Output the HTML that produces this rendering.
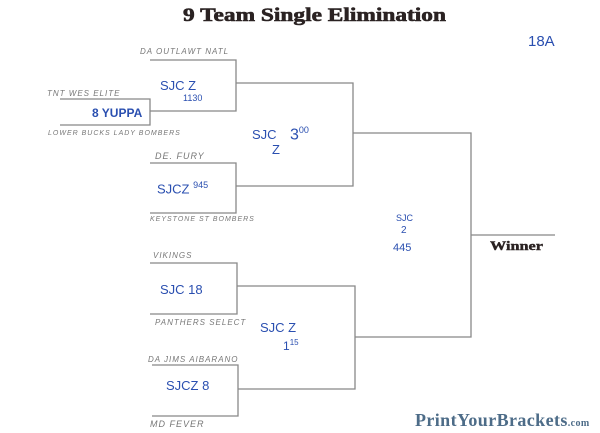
<!DOCTYPE html>
<html><head><style>
body{margin:0;width:600px;height:433px;background:#fff;position:relative;overflow:hidden;font-family:"Liberation Sans",sans-serif}
.t{position:absolute;white-space:nowrap}
.g{color:#777;font-size:8px;letter-spacing:1px;font-style:italic}
.b{color:#2a4fb0;font-size:13px}
</style></head><body>
<svg width="600" height="433" style="position:absolute;left:0;top:0" fill="none" stroke="#888" stroke-width="1.3">
<polyline points="150,60 236,60 236,111 150,111"/>
<polyline points="60,99 150,99 150,125 60,125"/>
<polyline points="150,163 236,163 236,213 150,213"/>
<polyline points="236,83 353,83 353,186 236,186"/>
<polyline points="150,263 237,263 237,314 150,314"/>
<polyline points="152,365 238,365 238,416 152,416"/>
<polyline points="237,286 355,286 355,389 238,389"/>
<polyline points="353,133 471,133 471,337 355,337"/>
<line x1="471" y1="235" x2="555" y2="235"/>
</svg>
<div class="t" style="left:183px;top:5px;font:900 19px 'Liberation Serif',serif;color:#2a2222;transform:scaleX(1.23);transform-origin:0 0;-webkit-text-stroke:0.6px #2a2222">9 Team Single Elimination</div>
<div class="t" style="left:490px;top:238px;font:bold 13px 'Liberation Serif',serif;color:#2a2222;transform:scaleX(1.25);transform-origin:0 0;-webkit-text-stroke:0.4px #2a2222">Winner</div>
<div class="t" style="left:415px;top:410px;font:bold 18px 'Liberation Serif',serif;color:#4d6c88;letter-spacing:0.4px">PrintYourBrackets<span style="font-size:10px">.com</span></div>
<div class="t b" style="left:528px;top:33px;font-size:15px">18A</div>
<div class="t g" style="left:140px;top:47px">DA OUTLAWT NATL</div>
<div class="t g" style="left:47px;top:89px">TNT WES ELITE</div>
<div class="t g" style="left:48px;top:130px;font-size:7px">LOWER BUCKS LADY BOMBERS</div>
<div class="t g" style="left:155px;top:151px;font-size:9px">DE. FURY</div>
<div class="t g" style="left:150px;top:216px;font-size:7px">KEYSTONE ST BOMBERS</div>
<div class="t g" style="left:153px;top:251px">VIKINGS</div>
<div class="t g" style="left:155px;top:318px">PANTHERS SELECT</div>
<div class="t g" style="left:148px;top:355px">DA JIMS AIBARANO</div>
<div class="t g" style="left:150px;top:419px;font-size:9px">MD FEVER</div>
<div class="t b" style="left:160px;top:78px">SJC Z</div>
<div class="t b" style="left:183px;top:93px;font-size:9px">1130</div>
<div class="t b" style="left:92px;top:106px;font-size:12px;font-weight:bold">8 YUPPA</div>
<div class="t b" style="left:252px;top:127px">SJC</div>
<div class="t b" style="left:272px;top:142px">Z</div>
<div class="t b" style="left:290px;top:125px;font-size:16px">3<sup style="font-size:9px">00</sup></div>
<div class="t b" style="left:157px;top:180px">SJCZ <sup style="font-size:9px">945</sup></div>
<div class="t b" style="left:396px;top:213px;font-size:9px">SJC</div>
<div class="t b" style="left:401px;top:225px;font-size:10px">2</div>
<div class="t b" style="left:393px;top:242px;font-size:11px">445</div>
<div class="t b" style="left:160px;top:282px">SJC 18</div>
<div class="t b" style="left:260px;top:320px">SJC Z</div>
<div class="t b" style="left:283px;top:338px;font-size:12px">1<sup style="font-size:8px">15</sup></div>
<div class="t b" style="left:166px;top:378px">SJCZ 8</div>
</body></html>
